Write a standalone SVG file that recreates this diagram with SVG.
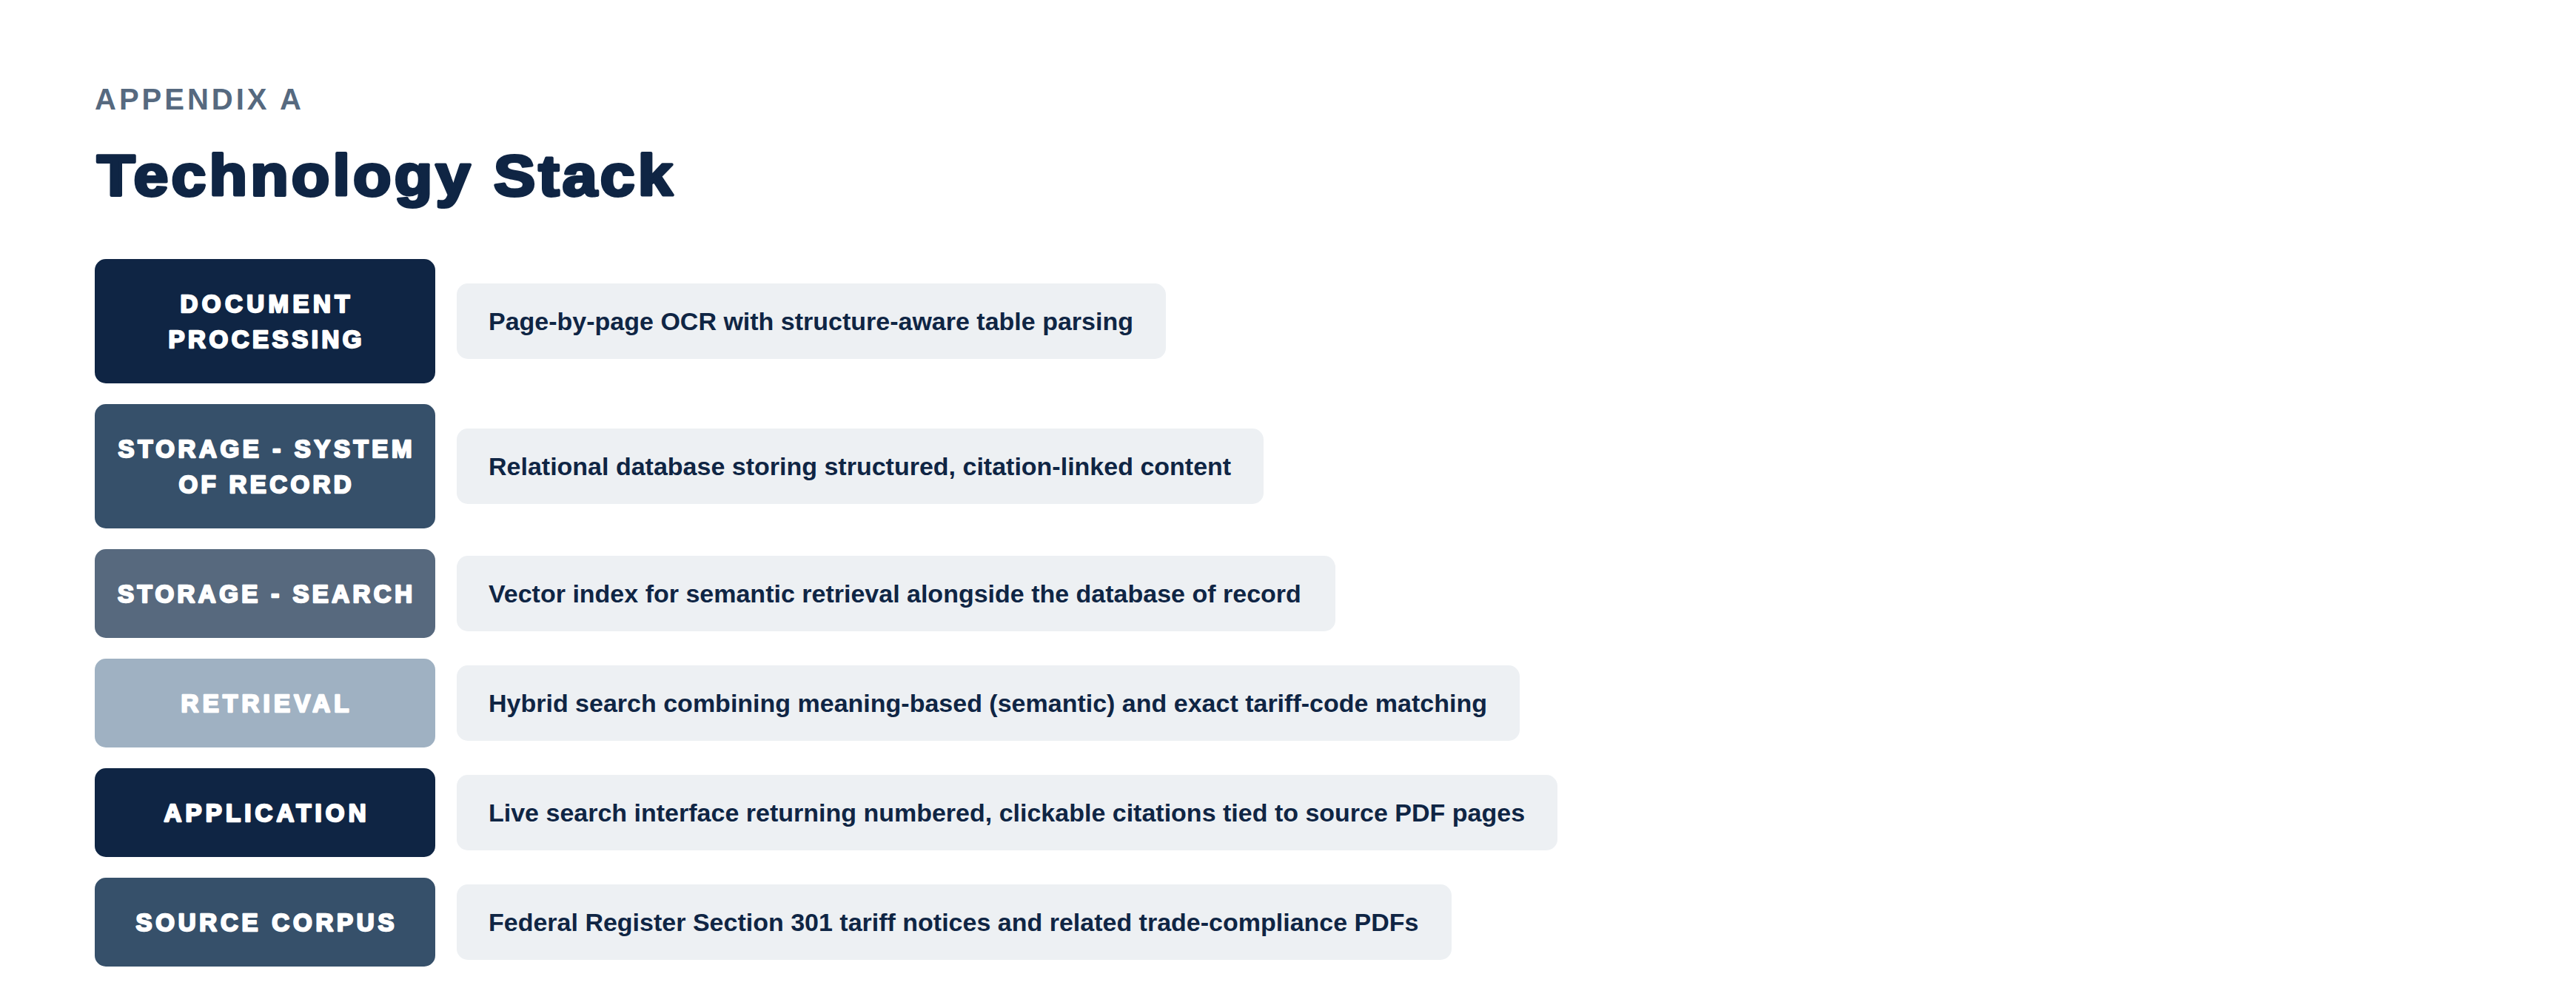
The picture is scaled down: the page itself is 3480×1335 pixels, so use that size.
<svg xmlns="http://www.w3.org/2000/svg" width="3480" height="1335" viewBox="0 0 3480 1335">
  <style>
    .eyebrow { font-family: "Liberation Sans", Arial, sans-serif; font-weight: 700; font-size: 40px; fill: #56697f; letter-spacing: 4px; }
    .title { font-family: "Liberation Sans", Arial, sans-serif; font-weight: 700; font-size: 77px; fill: #0f2544; stroke: #0f2544; stroke-width: 4px; stroke-linejoin: round; letter-spacing: 3.8px; }
    .lab { font-family: "Liberation Sans", Arial, sans-serif; font-weight: 700; font-size: 33px; fill: #ffffff; stroke: #ffffff; stroke-width: 2.4px; stroke-linejoin: round; }
    .desc { font-family: "Liberation Sans", Arial, sans-serif; font-weight: 700; font-size: 34px; fill: #0f2544; }
    .dbox { fill: #edf0f3; }
    .c1 { fill: #0f2544; }
    .c2 { fill: #36506a; }
    .c3 { fill: #57697e; }
    .c4 { fill: #9fb1c2; }
  </style>
  <rect width="3480" height="1335" fill="#ffffff"/>

  <g id="header">
    <text class="eyebrow" x="128" y="148">APPENDIX A</text>
    <text class="title" x="0" y="0" transform="translate(131 264) scale(1.095 1)">Technology Stack</text>
  </g>

  <g id="connectors"></g>

  <g id="row-document-processing">
    <rect class="c1" x="128" y="350" width="460" height="168" rx="15"/>
    <text class="lab" x="358" y="421.5" text-anchor="middle" textLength="229" lengthAdjust="spacing">DOCUMENT</text>
    <text class="lab" x="358" y="470" text-anchor="middle" textLength="261" lengthAdjust="spacing">PROCESSING</text>
    <rect class="dbox" x="617" y="383" width="958" height="102" rx="15"/>
    <text class="desc" x="660" y="446">Page-by-page OCR with structure-aware table parsing</text>
  </g>

  <g id="row-storage-system-of-record">
    <rect class="c2" x="128" y="546" width="460" height="168" rx="15"/>
    <text class="lab" x="358" y="617.5" text-anchor="middle" textLength="397" lengthAdjust="spacing">STORAGE - SYSTEM</text>
    <text class="lab" x="358" y="665.5" text-anchor="middle" textLength="233" lengthAdjust="spacing">OF RECORD</text>
    <rect class="dbox" x="617" y="579" width="1090" height="102" rx="15"/>
    <text class="desc" x="660" y="642">Relational database storing structured, citation-linked content</text>
  </g>

  <g id="row-storage-search">
    <rect class="c3" x="128" y="742" width="460" height="120" rx="15"/>
    <text class="lab" x="358" y="813.75" text-anchor="middle" textLength="398" lengthAdjust="spacing">STORAGE - SEARCH</text>
    <rect class="dbox" x="617" y="751" width="1187" height="102" rx="15"/>
    <text class="desc" x="660" y="814">Vector index for semantic retrieval alongside the database of record</text>
  </g>

  <g id="row-retrieval">
    <rect class="c4" x="128" y="890" width="460" height="120" rx="15"/>
    <text class="lab" x="358" y="961.75" text-anchor="middle" textLength="227" lengthAdjust="spacing">RETRIEVAL</text>
    <rect class="dbox" x="617" y="899" width="1436" height="102" rx="15"/>
    <text class="desc" x="660" y="962">Hybrid search combining meaning-based (semantic) and exact tariff-code matching</text>
  </g>

  <g id="row-application">
    <rect class="c1" x="128" y="1038" width="460" height="120" rx="15"/>
    <text class="lab" x="358" y="1109.75" text-anchor="middle" textLength="273" lengthAdjust="spacing">APPLICATION</text>
    <rect class="dbox" x="617" y="1047" width="1487" height="102" rx="15"/>
    <text class="desc" x="660" y="1110">Live search interface returning numbered, clickable citations tied to source PDF pages</text>
  </g>

  <g id="row-source-corpus">
    <rect class="c2" x="128" y="1186" width="460" height="120" rx="15"/>
    <text class="lab" x="358" y="1257.75" text-anchor="middle" textLength="349" lengthAdjust="spacing">SOURCE CORPUS</text>
    <rect class="dbox" x="617" y="1195" width="1344" height="102" rx="15"/>
    <text class="desc" x="660" y="1258">Federal Register Section 301 tariff notices and related trade-compliance PDFs</text>
  </g>
</svg>
